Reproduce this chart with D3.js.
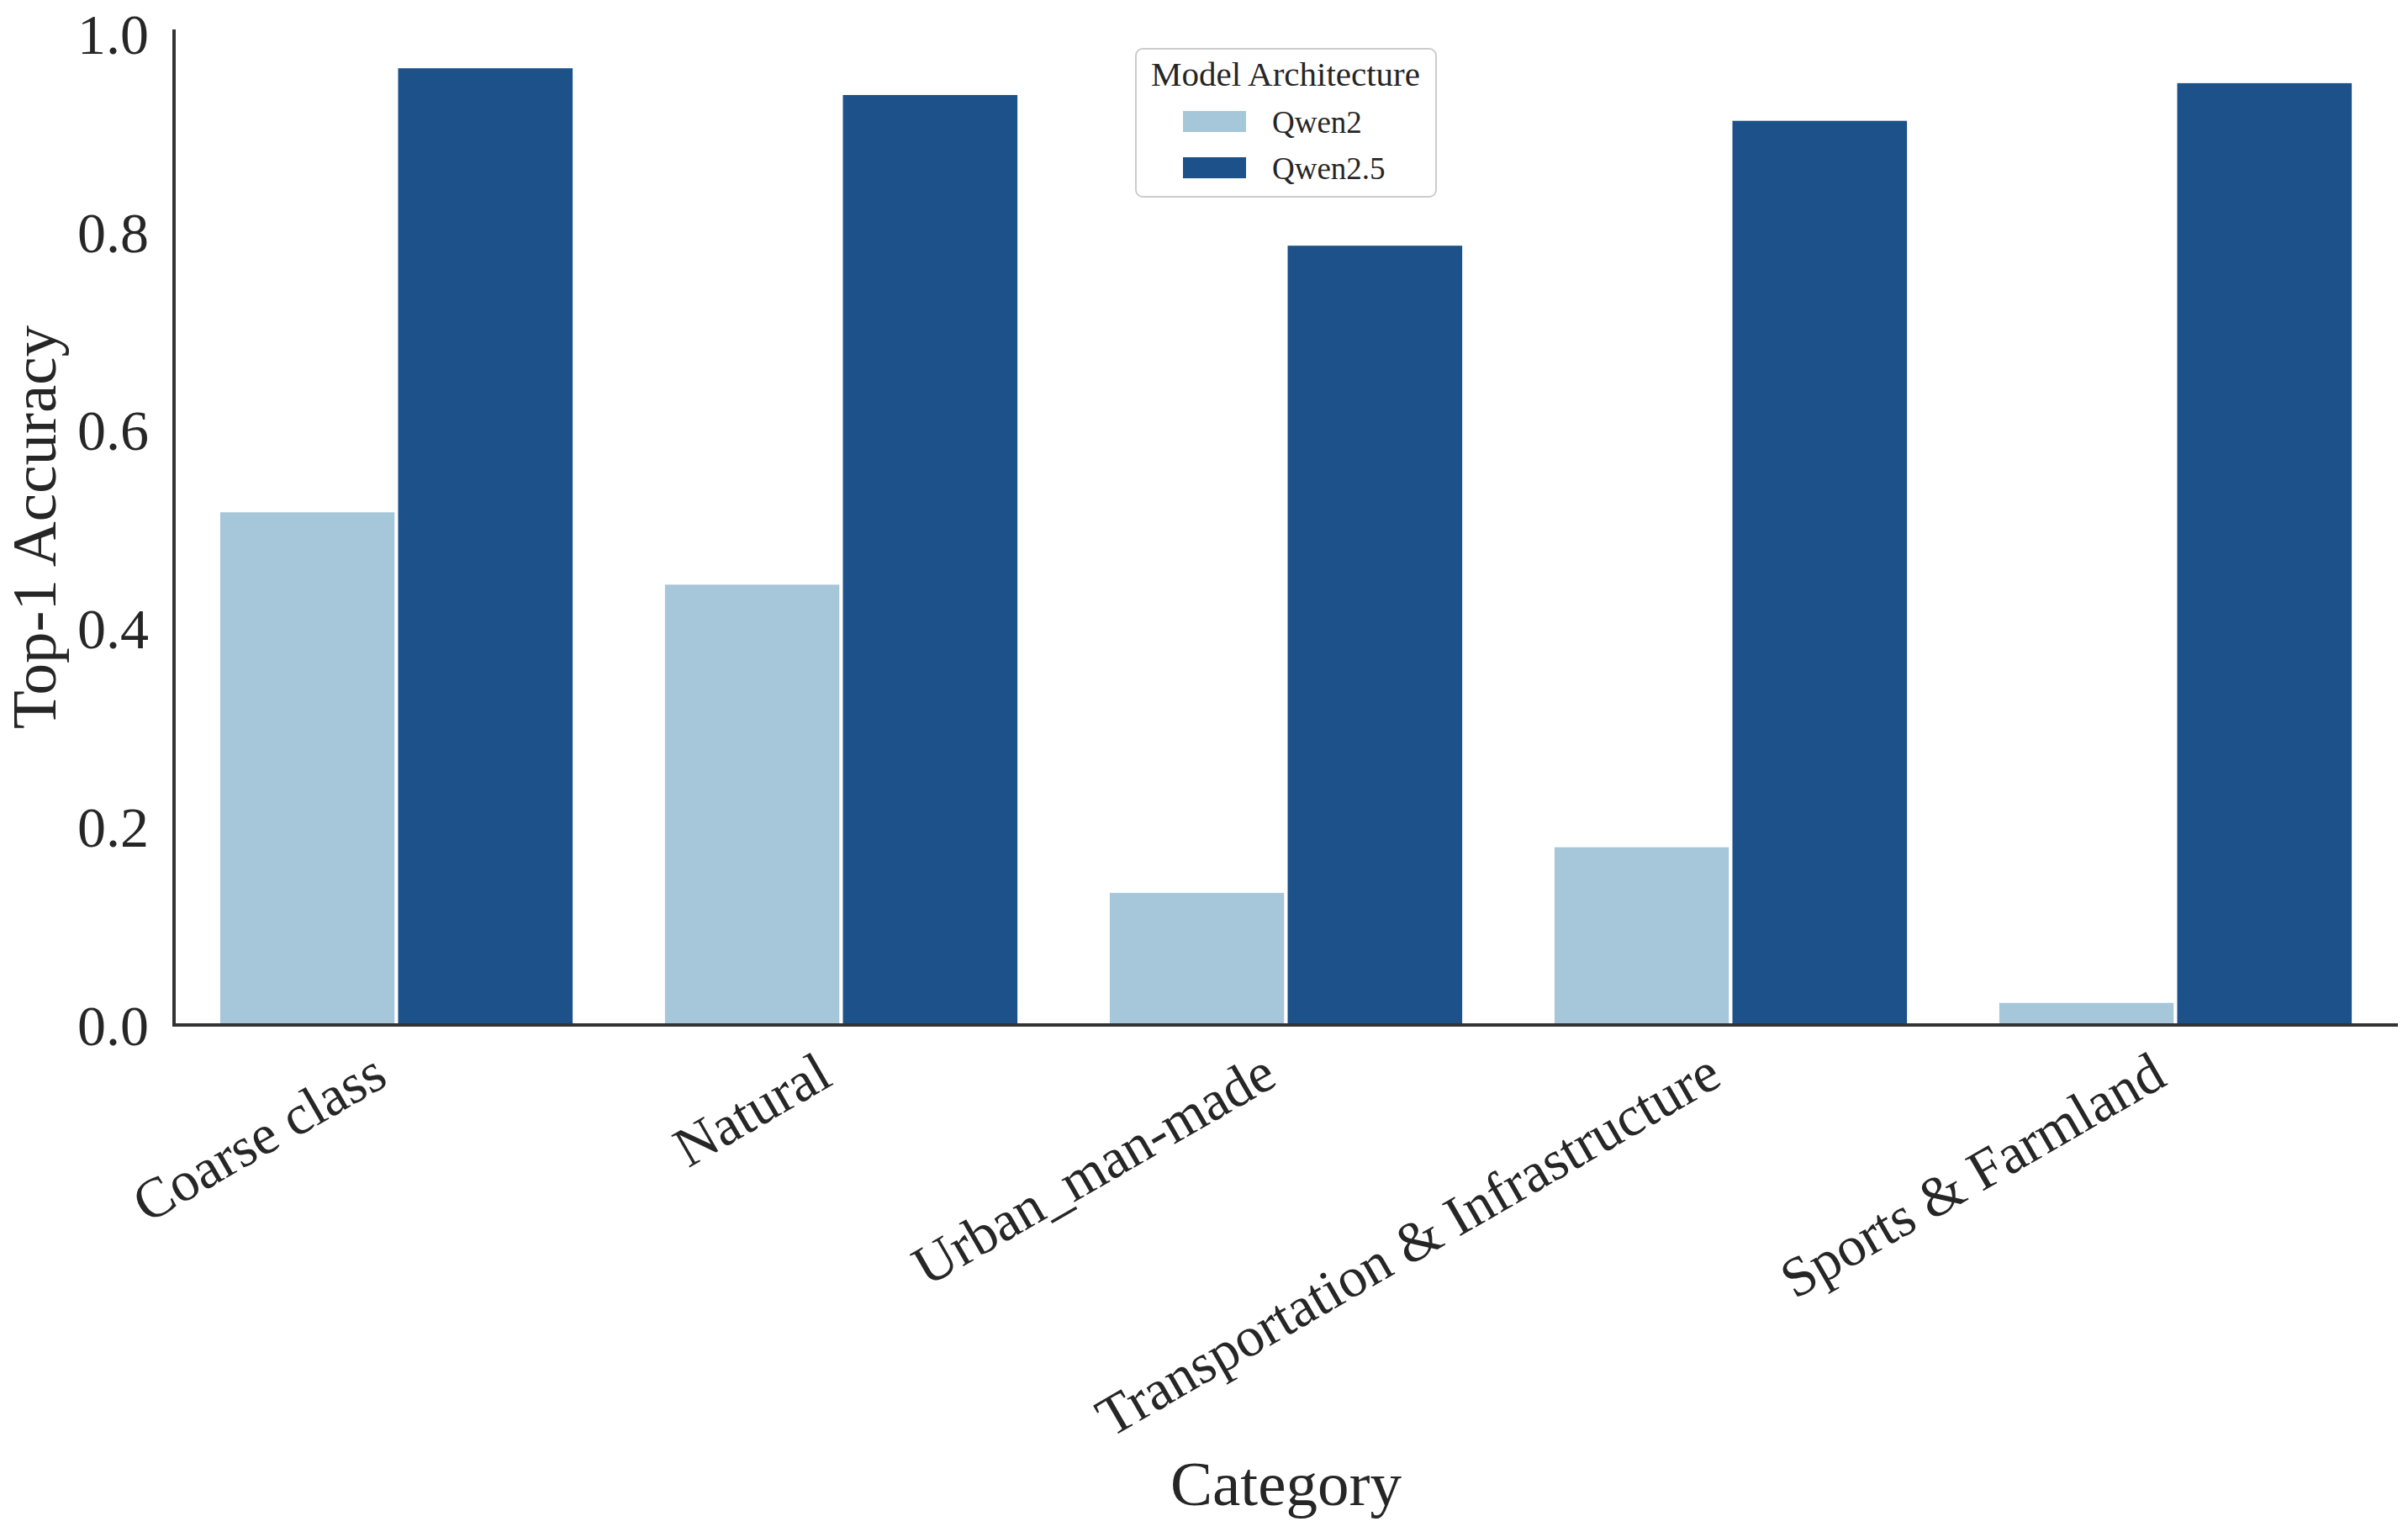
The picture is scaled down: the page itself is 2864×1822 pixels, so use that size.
<!DOCTYPE html>
<html>
<head>
<meta charset="utf-8">
<script src="https://cdn.jsdelivr.net/npm/d3@7"></script>
<style>
  html, body { margin: 0; padding: 0; background: #fff; }
  svg { display: block; }
  text { font-family: "Liberation Serif", "Times New Roman", serif; fill: #262626; }
</style>
</head>
<body>
<svg id="chart" width="2864" height="1822"></svg>
<script>
// ---- data ----
const categories = ["Coarse class", "Natural", "Urban_man-made", "Transportation & Infrastructure", "Sports & Farmland"];
const seriesNames = ["Qwen2", "Qwen2.5"];
const qwen2Values = [0.519, 0.446, 0.135, 0.181, 0.024];
const qwen25Values = [0.967, 0.940, 0.788, 0.914, 0.952];
const yTickValues = [0.0, 0.2, 0.4, 0.6, 0.8, 1.0];
const seriesColors = ["#a6c6da", "#1c5189"];

const seriesValues = [qwen2Values, qwen25Values];

// ---- layout ----
const W = 2864, H = 1822;
const plot = { left: 207, right: 2852, top: 35, bottom: 1219 };
const svg = d3.select("#chart");

const x = d3.scaleBand()
  .domain(categories)
  .range([plot.left, plot.right])
  .paddingInner(0.2)
  .paddingOuter(0.1);

const xSub = d3.scaleBand()
  .domain(seriesNames)
  .range([0, x.bandwidth()]);

const y = d3.scaleLinear()
  .domain([0, 1.0045])
  .range([plot.bottom, plot.top]);

const color = d3.scaleOrdinal().domain(seriesNames).range(seriesColors);

// ---- bars ----
const rows = [];
categories.forEach((c, i) => {
  seriesNames.forEach((s, j) => rows.push({ cat: c, series: s, value: seriesValues[j][i] }));
});

svg.append("g").selectAll("rect")
  .data(rows)
  .join("rect")
  .attr("x", d => x(d.cat) + xSub(d.series))
  .attr("y", d => y(d.value))
  .attr("width", xSub.bandwidth())
  .attr("height", d => y(0) - y(d.value))
  .attr("fill", d => color(d.series))
  .attr("stroke", "#ffffff")
  .attr("stroke-width", 4);

// ---- y axis ----
const yAxis = d3.axisLeft(y)
  .tickValues(yTickValues)
  .tickFormat(d3.format(".1f"))
  .tickSize(0)
  .tickPadding(30);

const gy = svg.append("g")
  .attr("transform", `translate(${plot.left},0)`)
  .call(yAxis);
gy.select(".domain").remove();
gy.selectAll("text")
  .attr("font-size", 68)
  .attr("dy", "0.34em")
  .style("font-family", '"Liberation Serif", "Times New Roman", serif')
  .attr("fill", "#262626");

// ---- x axis ----
const xAxis = d3.axisBottom(x).tickSize(0).tickPadding(0);
const gx = svg.append("g")
  .attr("transform", `translate(0,${plot.bottom})`)
  .call(xAxis);
gx.select(".domain").remove();
gx.selectAll(".tick text")
  .attr("font-size", 67)
  .attr("text-anchor", "end")
  .attr("y", 0)
  .attr("dy", 0)
  .attr("transform", "translate(-8,70) rotate(-30)")
  .style("font-family", '"Liberation Serif", "Times New Roman", serif')
  .attr("fill", "#262626");

// ---- spines ----
svg.append("line")
  .attr("x1", plot.left).attr("x2", plot.left)
  .attr("y1", plot.top).attr("y2", plot.bottom + 2)
  .attr("stroke", "#333").attr("stroke-width", 4);
svg.append("line")
  .attr("x1", plot.left - 2).attr("x2", plot.right)
  .attr("y1", plot.bottom).attr("y2", plot.bottom)
  .attr("stroke", "#333").attr("stroke-width", 4);

// ---- axis titles ----
svg.append("text")
  .attr("transform", `translate(66,${(plot.top + plot.bottom) / 2}) rotate(-90)`)
  .attr("text-anchor", "middle")
  .attr("font-size", 75)
  .text("Top-1 Accuracy");

svg.append("text")
  .attr("x", (plot.left + plot.right) / 2)
  .attr("y", 1790)
  .attr("text-anchor", "middle")
  .attr("font-size", 75)
  .text("Category");

// ---- legend ----
const lg = svg.append("g").attr("transform", "translate(1351,58)");
lg.append("rect")
  .attr("x", 0).attr("y", 0)
  .attr("width", 357).attr("height", 176)
  .attr("rx", 8)
  .attr("fill", "#fff").attr("fill-opacity", 0.8)
  .attr("stroke", "#cccccc").attr("stroke-width", 2);
lg.append("text")
  .attr("x", 178).attr("y", 44)
  .attr("text-anchor", "middle")
  .attr("font-size", 41)
  .text("Model Architecture");
seriesNames.forEach((s, i) => {
  lg.append("rect")
    .attr("x", 56).attr("y", 74 + i * 55)
    .attr("width", 75).attr("height", 25)
    .attr("fill", color(s));
  lg.append("text")
    .attr("x", 162).attr("y", 100 + i * 55)
    .attr("font-size", 37)
    .text(s);
});
</script>
</body>
</html>
